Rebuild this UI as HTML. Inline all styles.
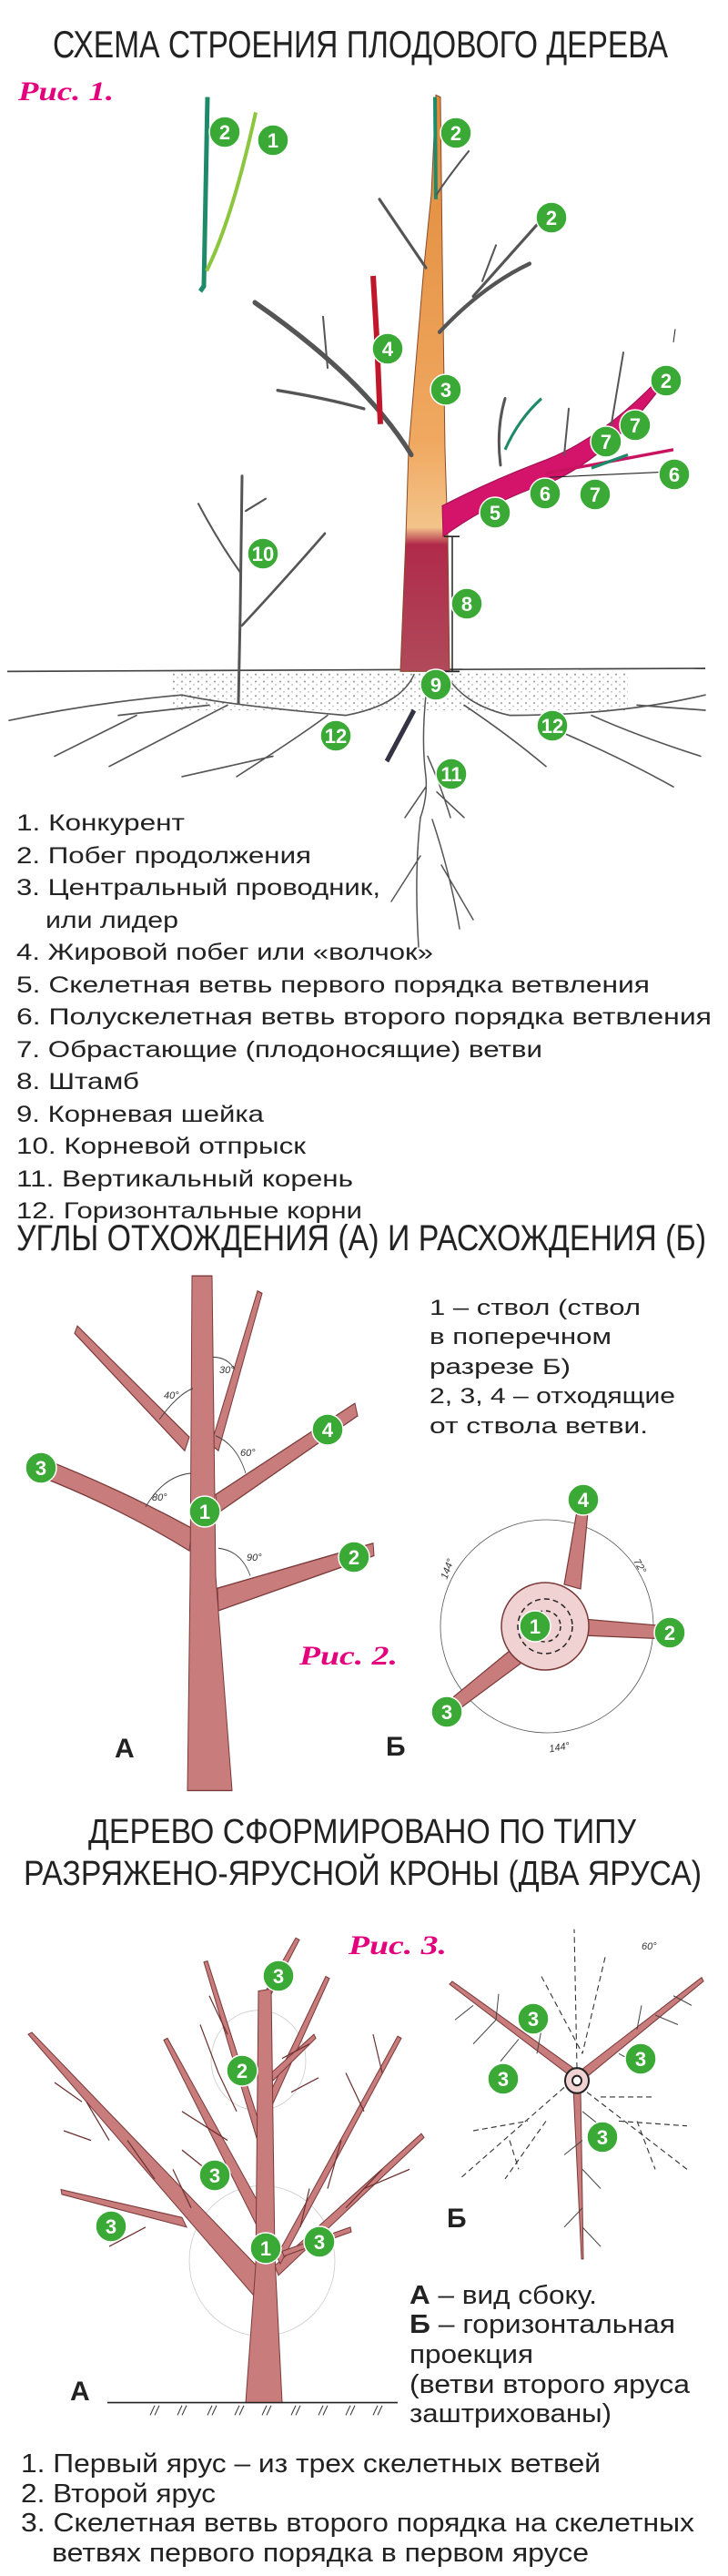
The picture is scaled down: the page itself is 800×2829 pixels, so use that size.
<!DOCTYPE html>
<html><head><meta charset="utf-8">
<style>
html,body{margin:0;padding:0;background:#fff;}
svg{display:block;}
.t{font-family:"Liberation Sans","Noto Sans CJK SC",sans-serif;fill:#222;}
.rc{font-family:"Liberation Serif",serif;font-weight:bold;font-style:italic;fill:#e4007d;}
.n{font-family:"Liberation Sans",sans-serif;font-weight:bold;fill:#fff;text-anchor:middle;}
.br{stroke:#555;fill:none;stroke-linecap:round;}
.rt{stroke:#555;fill:none;stroke-linecap:round;stroke-width:1.5;}
.rb{stroke:#7a3a3a;fill:#c97c7c;stroke-linecap:round;}
.ang{font-family:"Liberation Sans",sans-serif;font-size:11px;fill:#333;font-style:italic;}
</style></head>
<body>
<svg width="800" height="2829" viewBox="0 0 800 2829" xmlns="http://www.w3.org/2000/svg">
<defs>
<linearGradient id="trk" x1="0" y1="0" x2="0" y2="1">
<stop offset="0" stop-color="#e08a3a"/><stop offset="0.6" stop-color="#f0a860"/><stop offset="0.75" stop-color="#f3c48a"/><stop offset="0.78" stop-color="#b02a4a"/><stop offset="1" stop-color="#b04a5a"/>
</linearGradient>
<pattern id="dots" width="9" height="7" patternUnits="userSpaceOnUse">
<circle cx="2" cy="2" r="0.9" fill="#555"/><circle cx="6" cy="5" r="0.7" fill="#777"/>
</pattern>
<g id="c"><circle r="17" fill="#3aa935" stroke="#fff" stroke-width="1.5"/></g>
</defs>

<!-- ===== Section 1 ===== -->
<text class="t" x="58" y="63" font-size="42" textLength="676" lengthAdjust="spacingAndGlyphs">СХЕМА СТРОЕНИЯ ПЛОДОВОГО ДЕРЕВА</text>
<text class="rc" x="20" y="110" font-size="30" textLength="105" lengthAdjust="spacingAndGlyphs">Рис. 1.</text>

<g transform="scale(1 1.1223)">
<path d="M220 285 L224 280 L228 95" stroke="#1f8a6a" stroke-width="5" fill="none"/>
<path d="M227 265 Q255 215 281 110" stroke="#8cc63f" stroke-width="4" fill="none"/>
<rect x="190" y="657" width="500" height="38" fill="url(#dots)" opacity="0.7"/>
<path d="M8 657 L775 654" stroke="#444" stroke-width="1.5"/>
<path d="M479 93 L484 95 L486 250 L489 440 L492 525 L494 657 L440 657 L446 525 L449 440 L466 260 L474 190 Z" fill="url(#trk)" stroke="#8a4a2a" stroke-width="1"/>
<path d="M478 95 L479 195" stroke="#1f8a6a" stroke-width="4"/>
<path class="br" stroke-width="5" d="M452 445 Q400 370 280 296"/>
<path class="br" stroke-width="3" d="M400 400 Q360 390 305 382"/>
<path class="br" stroke-width="2" d="M360 360 L355 310"/>
<path class="br" stroke-width="3" d="M468 262 L417 195"/>
<path class="br" stroke-width="4" d="M483 325 Q530 280 582 258"/>
<path class="br" stroke-width="3" d="M520 290 Q560 250 592 218"/>
<path class="br" stroke-width="2" d="M480 190 Q495 170 515 148"/>
<path class="br" stroke-width="2" d="M530 275 L545 240"/>
<path d="M418 415 L414 330 L410 270" stroke="#c0182a" stroke-width="6" fill="none"/>
<path d="M486 495 Q540 470 600 450 Q670 425 735 360 L738 364 Q680 440 610 470 Q540 490 487 525 Z" fill="#d4146a" stroke="#a01050" stroke-width="1"/>
<path d="M600 463 L650 455 L740 440" stroke="#c81460" stroke-width="3" fill="none"/>
<path d="M650 458 L690 445" stroke="#1f8a6a" stroke-width="3" fill="none"/>
<path class="br" stroke-width="3" d="M550 455 Q545 420 555 390"/>
<path d="M555 440 Q570 410 595 390" stroke="#1f8a6a" stroke-width="3" fill="none"/>
<path class="br" stroke-width="2" d="M620 445 L625 400"/>
<path class="br" stroke-width="2" d="M670 425 L685 345"/>
<path d="M605 473 L605 467 L725 462" stroke="#222" stroke-width="1" fill="none"/>
<path d="M740 335 L742 322" stroke="#222" stroke-width="1"/>
<path d="M488 525 L505 525 M497 525 L497 657 M488 657 L505 657" stroke="#222" stroke-width="1.5" fill="none"/>
<path class="br" stroke-width="3" d="M262 688 L264 600 L266 466"/>
<path class="br" stroke-width="2.5" d="M266 612 Q310 570 357 522"/>
<path class="br" stroke-width="2" d="M264 560 Q240 530 218 493"/>
<path class="br" stroke-width="2" d="M270 500 L292 488"/>
<path class="rt" d="M455 660 Q440 690 380 700 Q250 690 200 680 Q100 688 10 705"/>
<path class="rt" d="M360 700 Q330 720 260 760 M300 740 L200 760 M250 690 L120 750 M150 700 L60 740 M230 690 L130 700"/>
<path class="rt" d="M490 660 Q510 690 560 700 Q680 700 775 680"/>
<path class="rt" d="M510 690 Q560 720 600 750 M600 710 Q680 740 740 770 M650 700 Q700 720 770 740 M700 690 L775 695"/>
<path class="rt" d="M470 665 Q462 720 468 760 Q470 780 462 800 M470 740 Q485 770 495 800 M468 770 L445 800 M480 775 L510 800"/>
<path d="M455 695 L425 745" stroke="#334" stroke-width="5"/>
</g>
<path class="rt" d="M462 898 Q455 960 460 1040 M475 900 Q495 960 505 1020 M462 940 L430 990 M485 950 L520 1010"/>

<g class="n" font-size="22">
<use href="#c" x="247" y="145"/><text x="247" y="153">2</text>
<use href="#c" x="300" y="154"/><text x="300" y="162">1</text>
<use href="#c" x="501" y="146"/><text x="501" y="154">2</text>
<use href="#c" x="606" y="239"/><text x="606" y="247">2</text>
<use href="#c" x="426" y="383"/><text x="426" y="391">4</text>
<use href="#c" x="490" y="428"/><text x="490" y="436">3</text>
<use href="#c" x="732" y="418"/><text x="732" y="426">2</text>
<use href="#c" x="698" y="467"/><text x="698" y="475">7</text>
<use href="#c" x="666" y="485"/><text x="666" y="493">7</text>
<use href="#c" x="741" y="521"/><text x="741" y="529">6</text>
<use href="#c" x="599" y="542"/><text x="599" y="550">6</text>
<use href="#c" x="654" y="543"/><text x="654" y="551">7</text>
<use href="#c" x="544" y="563"/><text x="544" y="571">5</text>
<use href="#c" x="289" y="608"/><text x="289" y="616">10</text>
<use href="#c" x="513" y="663"/><text x="513" y="671">8</text>
<use href="#c" x="479" y="752"/><text x="479" y="760">9</text>
<use href="#c" x="369" y="808"/><text x="369" y="816">12</text>
<use href="#c" x="607" y="797"/><text x="607" y="805">12</text>
<use href="#c" x="496" y="850"/><text x="496" y="858">11</text>
</g>

<g class="t" font-size="25">
<text x="18" y="912" textLength="185" lengthAdjust="spacingAndGlyphs">1. Конкурент</text>
<text x="18" y="948" textLength="324" lengthAdjust="spacingAndGlyphs">2. Побег продолжения</text>
<text x="18" y="983" textLength="400" lengthAdjust="spacingAndGlyphs">3. Центральный проводник,</text>
<text x="50" y="1019" textLength="146" lengthAdjust="spacingAndGlyphs">или лидер</text>
<text x="18" y="1054" textLength="458" lengthAdjust="spacingAndGlyphs">4. Жировой побег или «волчок»</text>
<text x="18" y="1090" textLength="696" lengthAdjust="spacingAndGlyphs">5. Скелетная ветвь первого порядка ветвления</text>
<text x="18" y="1125" textLength="764" lengthAdjust="spacingAndGlyphs">6. Полускелетная ветвь второго порядка ветвления</text>
<text x="18" y="1161" textLength="578" lengthAdjust="spacingAndGlyphs">7. Обрастающие (плодоносящие) ветви</text>
<text x="18" y="1196" textLength="135" lengthAdjust="spacingAndGlyphs">8. Штамб</text>
<text x="18" y="1232" textLength="272" lengthAdjust="spacingAndGlyphs">9. Корневая шейка</text>
<text x="18" y="1267" textLength="318" lengthAdjust="spacingAndGlyphs">10. Корневой отпрыск</text>
<text x="18" y="1303" textLength="370" lengthAdjust="spacingAndGlyphs">11. Вертикальный корень</text>
<text x="18" y="1338" textLength="380" lengthAdjust="spacingAndGlyphs">12. Горизонтальные корни</text>
</g>

<!-- ===== Section 2 ===== -->
<text class="t" x="18" y="1373" font-size="40" textLength="758" lengthAdjust="spacingAndGlyphs">УГЛЫ ОТХОЖДЕНИЯ (А) И РАСХОЖДЕНИЯ (Б)</text>

<g transform="matrix(1 0 0 1.3717 0 -327.1)">
<g class="rb" stroke-width="1">
<path d="M208 1389 L85 1300 L82 1306 L203 1400 Z"/>
<path d="M232 1395 L283 1272 L288 1274 L240 1400 Z"/>
<path d="M211 1462 Q130 1430 46 1406 L42 1420 Q130 1445 208 1480 Z"/>
<path d="M237 1435 L390 1362 L393 1372 L239 1450 Z"/>
<path d="M239 1510 L410 1474 L411 1484 L240 1528 Z"/>
<path d="M211 1260 L233 1260 L237 1500 L255 1672 L206 1672 L209 1500 Z"/>
</g>
<g fill="none" stroke="#444" stroke-width="0.8">
<path d="M175 1375 Q195 1355 212 1350"/>
<path d="M234 1325 Q250 1325 258 1335"/>
<path d="M237 1388 Q260 1395 270 1418"/>
<path d="M160 1445 Q180 1420 210 1418"/>
<path d="M240 1478 Q265 1480 275 1500"/>
</g>
</g>
<text class="ang" x="180" y="1536">40°</text>
<text class="ang" x="241" y="1508">30°</text>
<text class="ang" x="264" y="1599">60°</text>
<text class="ang" x="167" y="1648">80°</text>
<text class="ang" x="271" y="1714">90°</text>
<text class="t" x="126" y="1930" font-size="30" font-weight="bold">А</text>
<text class="t" x="424" y="1928" font-size="30" font-weight="bold">Б</text>
<text class="rc" x="329" y="1828" font-size="30" textLength="108" lengthAdjust="spacingAndGlyphs">Рис. 2.</text>

<g class="t" font-size="24">
<text x="472" y="1444" textLength="232" lengthAdjust="spacingAndGlyphs">1 – ствол (ствол</text>
<text x="472" y="1476" textLength="200" lengthAdjust="spacingAndGlyphs">в поперечном</text>
<text x="472" y="1509" textLength="155" lengthAdjust="spacingAndGlyphs">разрезе Б)</text>
<text x="472" y="1541" textLength="270" lengthAdjust="spacingAndGlyphs">2, 3, 4 – отходящие</text>
<text x="472" y="1574" textLength="240" lengthAdjust="spacingAndGlyphs">от ствола ветви.</text>
</g>

<circle cx="601" cy="1786" r="117" fill="none" stroke="#555" stroke-width="0.8"/>
<g class="rb" stroke-width="1.2">
<path d="M620 1740 L636 1648 L647 1650 L638 1745 Z"/>
<path d="M640 1778 L735 1786 L735 1800 L640 1796 Z"/>
<path d="M566 1808 L488 1872 L495 1884 L576 1824 Z"/>
</g>
<circle cx="599" cy="1786" r="48" fill="#f1d2d2" stroke="#7a3a3a" stroke-width="1.5"/>
<circle cx="599" cy="1786" r="30" fill="none" stroke="#222" stroke-width="1.5" stroke-dasharray="6 4"/>
<circle cx="599" cy="1786" r="17" fill="none" stroke="#222" stroke-width="1.5" stroke-dasharray="5 4"/>
<text class="ang" x="482" y="1730" transform="rotate(-70 490 1726)">144°</text>
<text class="ang" x="695" y="1722" transform="rotate(60 702 1719)">72°</text>
<text class="ang" x="603" y="1922" transform="rotate(-10 617 1917)">144°</text>

<g class="n" font-size="22">
<use href="#c" x="45" y="1612"/><text x="45" y="1620">3</text>
<use href="#c" x="360" y="1570"/><text x="360" y="1578">4</text>
<use href="#c" x="225" y="1660"/><text x="225" y="1668">1</text>
<use href="#c" x="389" y="1710"/><text x="389" y="1718">2</text>
<use href="#c" x="641" y="1647"/><text x="641" y="1655">4</text>
<use href="#c" x="736" y="1793"/><text x="736" y="1801">2</text>
<use href="#c" x="491" y="1880"/><text x="491" y="1888">3</text>
<use href="#c" x="588" y="1786"/><text x="588" y="1794">1</text>
</g>

<!-- ===== Section 3 ===== -->
<text class="t" x="97" y="2024" font-size="38" textLength="602" lengthAdjust="spacingAndGlyphs">ДЕРЕВО СФОРМИРОВАНО ПО ТИПУ</text>
<text class="t" x="26" y="2070" font-size="38" textLength="745" lengthAdjust="spacingAndGlyphs">РАЗРЯЖЕНО-ЯРУСНОЙ КРОНЫ (ДВА ЯРУСА)</text>
<text class="rc" x="383" y="2146" font-size="30" textLength="108" lengthAdjust="spacingAndGlyphs">Рис. 3.</text>

<g transform="matrix(1 0 0 1.0588 0 -116.4)">
<circle cx="284" cy="2247" r="52" fill="none" stroke="#ccc" stroke-width="0.8"/>
<ellipse cx="288" cy="2455" rx="80" ry="78" fill="none" stroke="#ccc" stroke-width="0.8"/>
<g class="rb" stroke-width="1">
<path d="M278 2490 L31 2220 L35 2218 L292 2470 Z"/>
<path d="M200 2410 L67 2381 L68 2386 L205 2420 Z"/>
<path d="M283 2420 L180 2226 L184 2224 L290 2405 Z"/>
<path d="M286 2340 L224 2145 L228 2144 L291 2330 Z"/>
<path d="M292 2290 L358 2160 L362 2162 L296 2300 Z"/>
<path d="M298 2260 L345 2220 L347 2224 L300 2268 Z"/>
<path d="M302 2460 L463 2323 L466 2327 L306 2470 Z"/>
<path d="M304 2450 L437 2222 L441 2224 L308 2458 Z"/>
<path d="M310 2445 L385 2420 L386 2425 L312 2450 Z"/>
<path d="M289 2180 L325 2120 L329 2122 L296 2182 Z"/>
<path d="M284 2175 L298 2173 L302 2450 L310 2602 L270 2602 L281 2460 Z"/>
</g>
<g stroke="#6a3030" stroke-width="1.2" fill="none">
<path d="M120 2330 L95 2290 M170 2370 L140 2330 M210 2400 L190 2360 M90 2290 L60 2270 M240 2370 L200 2340 M250 2330 L200 2300 M240 2260 L220 2210 M260 2300 L240 2260 M250 2220 L230 2180 M310 2245 L340 2230 M320 2280 L350 2265 M380 2400 L420 2360 M400 2380 L450 2360 M360 2380 L375 2330 M400 2300 L380 2260 M420 2260 L410 2220 M330 2420 L340 2380 M100 2330 L70 2320 M160 2420 L120 2440"/>
</g>
<path d="M118 2602 L437 2602" stroke="#222" stroke-width="1.5"/>
<path d="M165 2615 L170 2605 M170 2615 L175 2605 M195 2615 L200 2605 M200 2615 L205 2605 M228 2615 L233 2605 M233 2615 L238 2605 M258 2615 L263 2605 M263 2615 L268 2605 M288 2615 L293 2605 M293 2615 L298 2605 M320 2615 L325 2605 M325 2615 L330 2605 M350 2615 L355 2605 M355 2615 L360 2605 M380 2615 L385 2605 M385 2615 L390 2605 M410 2615 L415 2605 M415 2615 L420 2605" stroke="#333" stroke-width="1"/>
<g stroke="#333" stroke-width="1.1" fill="none" stroke-dasharray="6 4">
<path d="M634 2255 L631 2111"/>
<path d="M620 2275 L505 2370"/>
<path d="M645 2280 L755 2360"/>
<path d="M595 2160 L640 2240 M665 2140 L640 2240 M600 2310 L555 2370 M700 2310 L720 2360 M520 2320 L580 2310 M660 2285 L720 2285 M680 2310 L755 2315 M560 2330 L570 2360"/>
</g>
<g class="rb" stroke-width="1">
<path d="M625 2262 L494 2168 L497 2165 L630 2255 Z"/>
<path d="M640 2256 L771 2161 L773 2165 L645 2264 Z"/>
<path d="M630 2275 L638 2275 L641 2453 L639 2453 Z"/>
</g>
<g stroke="#444" stroke-width="1" fill="none">
<path d="M520 2190 L500 2205 M545 2205 L520 2230 M570 2225 L550 2248 M545 2205 L548 2178 M590 2240 L595 2215 M720 2200 L745 2210 M700 2215 L705 2190 M740 2180 L760 2190 M680 2240 L700 2250 M640 2330 L620 2345 M640 2360 L660 2380 M640 2400 L620 2420 M640 2420 L660 2440 M640 2300 L660 2315"/>
</g>
<circle cx="634" cy="2268" r="13" fill="#f1d2d2" stroke="#222" stroke-width="2"/>
<circle cx="634" cy="2268" r="5" fill="#fff" stroke="#222" stroke-width="2"/>
</g>
<text class="ang" x="705" y="2141">60°</text>
<text class="t" x="77" y="2636" font-size="30" font-weight="bold">А</text>
<text class="t" x="491" y="2446" font-size="30" font-weight="bold">Б</text>

<g class="n" font-size="22">
<use href="#c" x="306" y="2170"/><text x="306" y="2178">3</text>
<use href="#c" x="266" y="2274"/><text x="266" y="2282">2</text>
<use href="#c" x="236" y="2389"/><text x="236" y="2397">3</text>
<use href="#c" x="122" y="2445"/><text x="122" y="2453">3</text>
<use href="#c" x="292" y="2469"/><text x="292" y="2477">1</text>
<use href="#c" x="351" y="2462"/><text x="351" y="2470">3</text>
<use href="#c" x="586" y="2217"/><text x="586" y="2225">3</text>
<use href="#c" x="704" y="2261"/><text x="704" y="2269">3</text>
<use href="#c" x="553" y="2283"/><text x="553" y="2291">3</text>
<use href="#c" x="662" y="2347"/><text x="662" y="2355">3</text>
</g>

<g class="t" font-size="29">
<text x="450" y="2530" textLength="206" lengthAdjust="spacingAndGlyphs"><tspan font-weight="bold">А</tspan> – вид сбоку.</text>
<text x="450" y="2562" textLength="292" lengthAdjust="spacingAndGlyphs"><tspan font-weight="bold">Б</tspan> – горизонтальная</text>
<text x="450" y="2595" textLength="136" lengthAdjust="spacingAndGlyphs">проекция</text>
<text x="450" y="2628" textLength="308" lengthAdjust="spacingAndGlyphs">(ветви второго яруса</text>
<text x="450" y="2660" textLength="222" lengthAdjust="spacingAndGlyphs">заштрихованы)</text>
</g>

<g class="t" font-size="29">
<text x="23" y="2715" textLength="637" lengthAdjust="spacingAndGlyphs">1. Первый ярус – из трех скелетных ветвей</text>
<text x="23" y="2748" textLength="214" lengthAdjust="spacingAndGlyphs">2. Второй ярус</text>
<text x="23" y="2780" textLength="740" lengthAdjust="spacingAndGlyphs">3. Скелетная ветвь второго порядка на скелетных</text>
<text x="57" y="2813" textLength="590" lengthAdjust="spacingAndGlyphs">ветвях первого порядка в первом ярусе</text>
</g>
</svg>
</body></html>
